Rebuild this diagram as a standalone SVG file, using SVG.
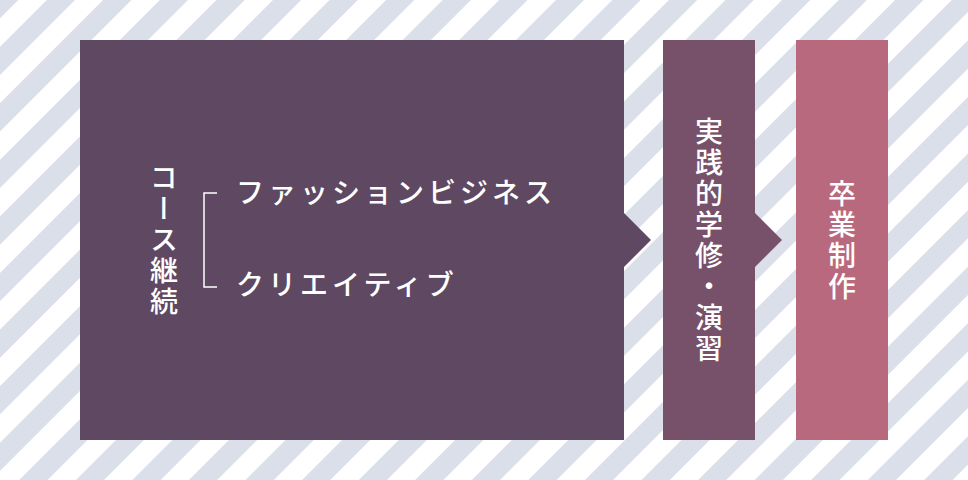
<svg xmlns="http://www.w3.org/2000/svg" width="968" height="480" viewBox="0 0 968 480">
  <style>
    .lbl { font-family: "Noto Sans CJK JP", "Noto Sans", sans-serif; font-size: 28px; font-weight: 500; fill: #ffffff; }
    .vert { writing-mode: vertical-rl; text-anchor: middle; letter-spacing: 3px; }
    .horiz { letter-spacing: 4px; }
  </style>
  <defs>
    <pattern id="stripes" patternUnits="userSpaceOnUse" width="40" height="40" patternTransform="rotate(45) translate(33,0)">
      <rect x="0" y="0" width="20" height="40" fill="#dadfe9"/>
    </pattern>
  </defs>
  <rect x="0" y="0" width="968" height="480" fill="#ffffff"/>
  <rect x="0" y="0" width="968" height="480" fill="url(#stripes)"/>

  <g id="connectors">
    <polygon points="624,213 651,240 624,267" fill="#5f4861"/>
    <polygon points="755,213 782,240 755,267" fill="#765169"/>
  </g>

  <g id="course">
    <rect x="80" y="40" width="544" height="400" fill="#5f4861"/>
    <text class="lbl vert" x="164" y="241">コース継続</text>
    <path d="M217,193 H204 V287 H217" fill="none" stroke="#ffffff" stroke-width="1.5"/>
    <text class="lbl horiz" x="236" y="203">ファッションビジネス</text>
    <text class="lbl horiz" x="236" y="295">クリエイティブ</text>
  </g>

  <g id="practice">
    <rect x="663" y="40" width="92" height="400" fill="#765169"/>
    <text class="lbl vert" x="709" y="241">実践的学修・演習</text>
  </g>

  <g id="graduation">
    <rect x="796" y="40" width="92" height="400" fill="#b9697e"/>
    <text class="lbl vert" x="842" y="241">卒業制作</text>
  </g>
</svg>
